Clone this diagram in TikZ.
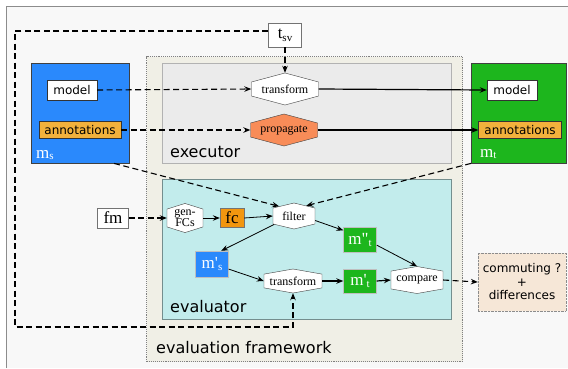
\documentclass[tikz,border=0pt]{standalone}
\usepackage{fontspec}
\setmainfont{Liberation Serif}
\newfontfamily\sansf{DejaVu Sans}
\usetikzlibrary{arrows.meta,shapes.symbols,calc}
\definecolor{msblue}{HTML}{2A89FC}
\definecolor{mtgreen}{HTML}{1DB61D}
\definecolor{annot}{HTML}{F2B13C}
\definecolor{propcol}{HTML}{F88C58}
\definecolor{fccol}{HTML}{F2960F}
\definecolor{evalfill}{HTML}{C2ECEC}
\definecolor{execfill}{HTML}{EBEBEB}
\definecolor{fwfill}{HTML}{F0EFE6}
\definecolor{bgcol}{HTML}{F8F8F8}
\definecolor{resfill}{HTML}{F6E7D7}
\newcommand{\mysub}[2]{{\fontsize{17}{17}\selectfont #1}\raisebox{-0.35ex}{\fontsize{11}{11}\selectfont #2}}
\begin{document}
\begin{tikzpicture}[x=1pt,y=-1pt,
  arr/.style={-{Stealth[length=7pt,width=5.5pt,inset=2.5pt]}},
  dsh/.style={dash pattern=on 6pt off 3.5pt, line width=1.1pt},
  thk/.style={line width=1.2pt},
  thn/.style={line width=0.8pt},
  lbox/.style={draw=black!80, fill=white, inner sep=0pt, font=\sansf\fontsize{12}{14}\selectfont},
  sqbox/.style={draw=black!55, fill=white, inner sep=0pt, font=\fontsize{17}{17}\selectfont},
  colbox/.style={draw=black!25, inner sep=0pt, text=white},
  hex/.style={signal, signal to=north and south, signal pointer angle=#1, draw=black!75, fill=white, inner sep=0pt, align=center, font=\fontsize{12}{10}\selectfont},
  hex/.default=150,
  cont/.style={anchor=north west, inner sep=0pt},
  boxlab/.style={anchor=base west, inner sep=0pt, font=\sansf\fontsize{16}{16}\selectfont}
]
\useasboundingbox (0,0) rectangle (568,368);
\fill[bgcol] (6,6) rectangle (568,368);
\draw[black!45, line width=1pt] (6,368) -- (6,6) -- (568,6);

% containers
\node[cont, draw=black!50, densely dotted, line width=1.1pt, fill=fwfill, minimum width=316pt, minimum height=305pt] (fw) at (146,56) {};
\node[cont, draw=black!30, fill=execfill, minimum width=289pt, minimum height=100pt] (ex) at (162,63) {};
\node[cont, draw=black!40!evalfill, fill=evalfill, minimum width=289pt, minimum height=140pt] (ev) at (162,179) {};
\node[cont, draw=black!75, fill=msblue, minimum width=98pt, minimum height=100pt] (ms) at (31,63) {};
\node[cont, draw=black!75, fill=mtgreen, minimum width=95pt, minimum height=100pt] (mt) at (471,63) {};

\node[boxlab] (exl) at (170,157) {executor};
\node[boxlab] (evl) at (170,312) {evaluator};
\node[boxlab] (fwl) at (156,353) {evaluation framework};
\node[anchor=base west, inner sep=0pt, text=white] (msl) at (36,158) {\mysub{m}{s}};
\node[anchor=base west, inner sep=0pt, text=white] (mtl) at (480,157) {\mysub{m}{t}};

% nodes
\node[lbox, minimum width=50pt, minimum height=20pt] (mod1) at (72,90) {model};
\node[lbox, fill=annot, minimum width=82pt, minimum height=17pt] (ann1) at (80,130) {annotations};
\node[lbox, minimum width=50pt, minimum height=20pt] (mod2) at (512,90) {model};
\node[lbox, fill=annot, minimum width=83pt, minimum height=17pt] (ann2) at (520,130) {annotations};
\node[sqbox, minimum width=33pt, minimum height=24pt] (tsv) at (285,35) {\mysub{t}{sv}};
\node[hex, text width=67pt, minimum height=32pt] (tr1) at (285,89) {transform};
\node[hex, fill=propcol, text width=67pt, minimum height=32pt] (prop) at (284,130) {propagate};
\node[sqbox, minimum width=31pt, minimum height=20pt] (fm) at (113,218) {fm};
\node[hex=145, text width=36pt, minimum height=29pt] (gen) at (185,218) {gen-\\FCs};
\node[sqbox, fill=fccol, minimum width=24pt, minimum height=19pt] (fc) at (232,218) {fc};
\node[hex=153, text width=42pt, minimum height=26pt] (filt) at (294,216) {filter};
\node[colbox, fill=mtgreen, minimum width=33pt, minimum height=25pt] (mtt) at (360,240) {\mysub{m\textquotedbl}{t}};
\node[colbox, fill=msblue, minimum width=33pt, minimum height=26pt] (ms2) at (212,264) {\mysub{m\textquotesingle}{s}};
\node[hex=160, text width=58pt, minimum height=24pt] (tr2) at (293,281) {transform};
\node[colbox, fill=mtgreen, minimum width=33pt, minimum height=24pt] (mt2) at (360,281) {\mysub{m\textquotesingle}{t}};
\node[hex=160, text width=52pt, minimum height=27pt] (cmp) at (417,280) {compare};
\node[draw=black!45, densely dotted, fill=resfill, minimum width=88pt, minimum height=58pt, inner sep=0pt, align=center, font=\sansf\fontsize{12}{13.5}\selectfont] (res) at (522,282) {commuting ?\\+\\differences};

\coordinate (c1) at (15,31);
\coordinate (c3) at (293,327);

% connectors
\draw[dsh, arr] (tsv.south) -- (tr1.north);
\draw[dsh, arr] (tsv.west |- c1) -- (c1) |- (c3) -- (tr2.south);
\draw[dsh, arr] (mod1.east) -- (tr1.west);
\draw[dsh, arr] (ann1.east) -- (prop.west);
\draw[thk, arr] (tr1.east) -- (mod2.west);
\draw[thk, arr] (prop.east) -- (ann2.west);
\draw[dsh, arr] (ms.-56.6) -- (filt.147);
\draw[dsh, arr] (mt.south west) -- (filt.40);
\draw[dsh, arr] (fm.east) -- (gen.west);
\draw[thn, arr] (gen.east) -- (fc.west);
\draw[thn, arr] (fc.east) -- (filt.west);
\draw[thn, arr] (filt.-12) -- (mtt.150);
\draw[thn, arr] (filt.203) -- (ms2.55);
\draw[thn, arr] (ms2.-17) -- (tr2.west);
\draw[thk, arr] (tr2.east) -- (mt2.west);
\draw[thk, arr] (mt2.east) -- (cmp.west);
\draw[thn, arr] (mtt.-17) -- (cmp.north);
\draw[dsh, arr] (cmp.east) -- (res.west);
\end{tikzpicture}
\end{document}
